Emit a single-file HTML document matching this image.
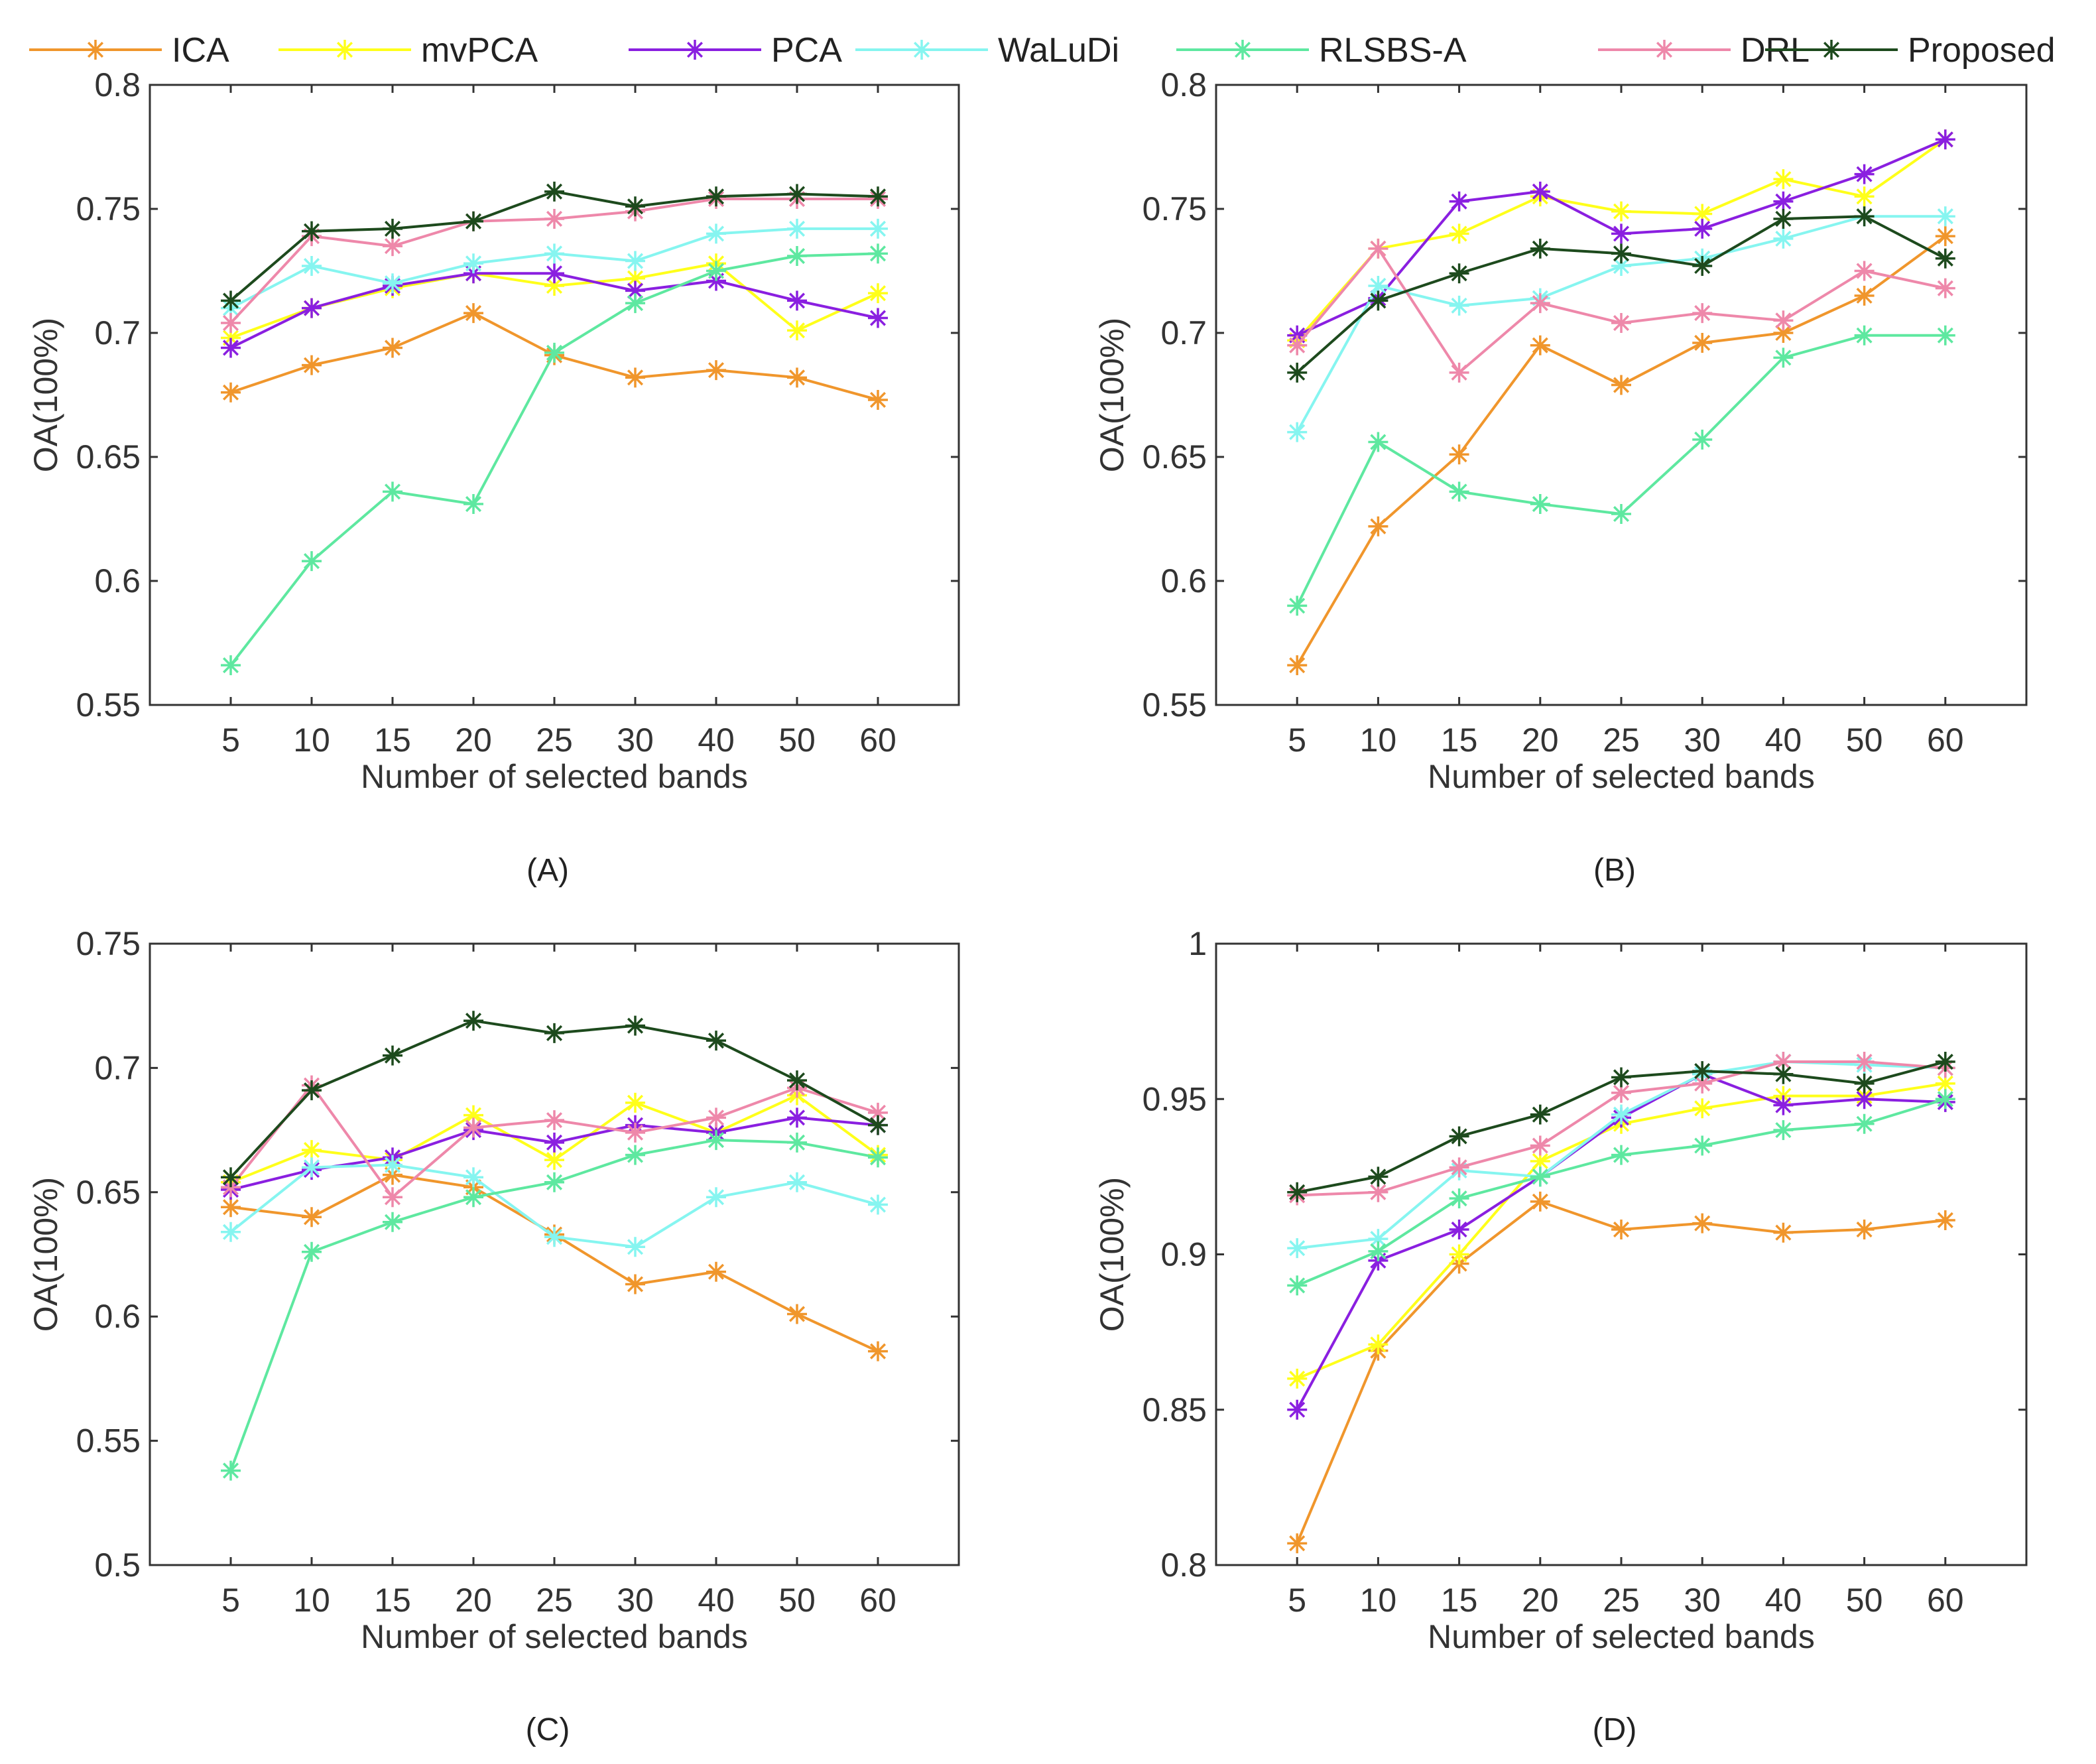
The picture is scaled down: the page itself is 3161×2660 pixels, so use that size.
<!DOCTYPE html>
<html><head><meta charset="utf-8">
<style>
html,body{margin:0;padding:0;background:#fff;}
svg{display:block;font-family:"Liberation Sans",Arial,sans-serif;}
</style></head>
<body>
<svg id="fig" width="3161" height="2660" viewBox="0 0 3161 2660" xmlns="http://www.w3.org/2000/svg">
<rect width="3161" height="2660" fill="#fff"/>
</svg>
<script>
const categories = ["5","10","15","20","25","30","40","50","60"];
const seriesNames = ["ICA","mvPCA","PCA","WaLuDi","RLSBS-A","DRL","Proposed"];
const seriesColors = ["#f0962c","#ffff1a","#8a1fe0","#86f5f0","#5ee8a0","#ee88aa","#1d4a1d"];

const panelLabels = ["(A)","(B)","(C)","(D)"];
const yTicksA = [0.55,0.6,0.65,0.7,0.75,0.8];
const yTicksB = [0.55,0.6,0.65,0.7,0.75,0.8];
const yTicksC = [0.5,0.55,0.6,0.65,0.7,0.75];
const yTicksD = [0.8,0.85,0.9,0.95,1];

const dataA_ICA = [.676,.687,.694,.708,.691,.682,.685,.682,.673];
const dataA_mvPCA = [.698,.710,.718,.724,.719,.722,.728,.701,.716];
const dataA_PCA = [.694,.710,.719,.724,.724,.717,.721,.713,.706];
const dataA_WaLuDi = [.710,.727,.720,.728,.732,.729,.740,.742,.742];
const dataA_RLSBS = [.566,.608,.636,.631,.692,.712,.725,.731,.732];
const dataA_DRL = [.704,.739,.735,.745,.746,.749,.754,.754,.754];
const dataA_Proposed = [.713,.741,.742,.745,.757,.751,.755,.756,.755];

const dataB_ICA = [.566,.622,.651,.695,.679,.696,.700,.715,.739];
const dataB_mvPCA = [.697,.734,.740,.755,.749,.748,.762,.755,.778];
const dataB_PCA = [.699,.714,.753,.757,.740,.742,.753,.764,.778];
const dataB_WaLuDi = [.660,.719,.711,.714,.727,.730,.738,.747,.747];
const dataB_RLSBS = [.590,.656,.636,.631,.627,.657,.690,.699,.699];
const dataB_DRL = [.695,.734,.684,.712,.704,.708,.705,.725,.718];
const dataB_Proposed = [.684,.713,.724,.734,.732,.727,.746,.747,.730];

const dataC_ICA = [.644,.640,.657,.652,.633,.613,.618,.601,.586];
const dataC_mvPCA = [.654,.667,.663,.681,.663,.686,.674,.689,.665];
const dataC_PCA = [.651,.659,.664,.675,.670,.677,.674,.680,.677];
const dataC_WaLuDi = [.634,.660,.661,.656,.632,.628,.648,.654,.645];
const dataC_RLSBS = [.538,.626,.638,.648,.654,.665,.671,.670,.664];
const dataC_DRL = [.652,.693,.648,.676,.679,.674,.680,.692,.682];
const dataC_Proposed = [.656,.691,.705,.719,.714,.717,.711,.695,.677];

const dataD_ICA = [.807,.869,.897,.917,.908,.910,.907,.908,.911];
const dataD_mvPCA = [.860,.871,.900,.930,.942,.947,.951,.951,.955];
const dataD_PCA = [.850,.898,.908,.925,.944,.958,.948,.950,.949];
const dataD_WaLuDi = [.902,.905,.927,.925,.945,.958,.962,.961,.960];
const dataD_RLSBS = [.890,.901,.918,.925,.932,.935,.940,.942,.950];
const dataD_DRL = [.919,.920,.928,.935,.952,.955,.962,.962,.960];
const dataD_Proposed = [.920,.925,.938,.945,.957,.959,.958,.955,.962];

const svg = document.getElementById('fig');
const NS = 'http://www.w3.org/2000/svg';
function mk(tag, attrs, parent){const e=document.createElementNS(NS,tag);for(const k in attrs)e.setAttribute(k,attrs[k]);(parent||svg).appendChild(e);return e;}
function fmt(v){return String(+v.toFixed(2));}

function asterisk(g,x,y,color,r){
  const d=`M${x-r},${y}H${x+r}M${x},${y-r}V${y+r}M${x-r*0.72},${y-r*0.72}L${x+r*0.72},${y+r*0.72}M${x-r*0.72},${y+r*0.72}L${x+r*0.72},${y-r*0.72}`;
  const p=mk('path',{d:d,stroke:color,'stroke-width':3.5,fill:'none'},g);
  
  
}

const panels = [
 {key:'a',L:226,R:1446,T:128,B:1063,ymin:0.55,ymax:0.8,ticks:yTicksA,label:panelLabels[0],ly:1328,
  data:[dataA_ICA,dataA_mvPCA,dataA_PCA,dataA_WaLuDi,dataA_RLSBS,dataA_DRL,dataA_Proposed]},
 {key:'b',L:1834,R:3056,T:128,B:1063,ymin:0.55,ymax:0.8,ticks:yTicksB,label:panelLabels[1],ly:1328,
  data:[dataB_ICA,dataB_mvPCA,dataB_PCA,dataB_WaLuDi,dataB_RLSBS,dataB_DRL,dataB_Proposed]},
 {key:'c',L:226,R:1446,T:1423,B:2360,ymin:0.5,ymax:0.75,ticks:yTicksC,label:panelLabels[2],ly:2624,
  data:[dataC_ICA,dataC_mvPCA,dataC_PCA,dataC_WaLuDi,dataC_RLSBS,dataC_DRL,dataC_Proposed]},
 {key:'d',L:1834,R:3056,T:1423,B:2360,ymin:0.8,ymax:1,ticks:yTicksD,label:panelLabels[3],ly:2624,
  data:[dataD_ICA,dataD_mvPCA,dataD_PCA,dataD_WaLuDi,dataD_RLSBS,dataD_DRL,dataD_Proposed]}
];

panels.forEach(p=>{
  const g=mk('g',{});
  
  
  const xs=i=>p.L+(i+1)*(p.R-p.L)/10;
  const ys=v=>p.B-(v-p.ymin)/(p.ymax-p.ymin)*(p.B-p.T);
  const box=mk('rect',{x:p.L,y:p.T,width:p.R-p.L,height:p.B-p.T,fill:'none',stroke:'#333','stroke-width':3},g);
  
  
  categories.forEach((c,i)=>{
    const x=xs(i);
    mk('path',{d:`M${x},${p.B}v-12M${x},${p.T}v12`,stroke:'#333','stroke-width':3},g);
    const t=mk('text',{x:x,y:p.B+70,'text-anchor':'middle','font-size':50,fill:'#333'},g);
    t.textContent=c;
    
    
  });
  p.ticks.forEach(v=>{
    const y=ys(v);
    mk('path',{d:`M${p.L},${y}h12M${p.R},${y}h-12`,stroke:'#333','stroke-width':3},g);
    const t=mk('text',{x:p.L-14,y:y+17,'text-anchor':'end','font-size':50,fill:'#333'},g);
    t.textContent=fmt(v);
    
    
  });
  const xt=mk('text',{x:(p.L+p.R)/2,y:p.B+125,'text-anchor':'middle','font-size':50,fill:'#333'},g);
  xt.textContent='Number of selected bands';
  
  
  const yx=p.L-140, ym=(p.T+p.B)/2;
  const yt=mk('text',{x:yx,y:ym,'text-anchor':'middle','font-size':50,fill:'#333',transform:`rotate(-90 ${yx} ${ym})`},g);
  yt.textContent='OA(100%)';
  
  
  const pl=mk('text',{x:(p.L+p.R)/2-10,y:p.ly,'text-anchor':'middle','font-size':48,fill:'#222'},g);
  pl.textContent=p.label;
  
  
  p.data.forEach((arr,si)=>{
    const sg=mk('g',{},g);
    
    
    const pts=arr.map((v,i)=>xs(i)+','+ys(v)).join(' ');
    const line=mk('polyline',{points:pts,fill:'none',stroke:seriesColors[si],'stroke-width':4,'stroke-linejoin':'round'},sg);
    
    
    arr.forEach((v,i)=>asterisk(sg,xs(i),ys(v),seriesColors[si],15));
  });
});

const legendLineX = [44,420,948,1290,1774,2410,2662];
const lg=mk('g',{});


seriesNames.forEach((n,i)=>{
  const x=legendLineX[i], y=75;
  const eg=mk('g',{},lg);
  
  
  mk('line',{x1:x,y1:y,x2:x+200,y2:y,stroke:seriesColors[i],'stroke-width':4},eg);
  asterisk(eg,x+100,y,seriesColors[i],15);
  const t=mk('text',{x:x+215,y:y+18,'font-size':52,fill:'#222'},eg);
  t.textContent=n;
  
  
});
</script>
</body></html>
